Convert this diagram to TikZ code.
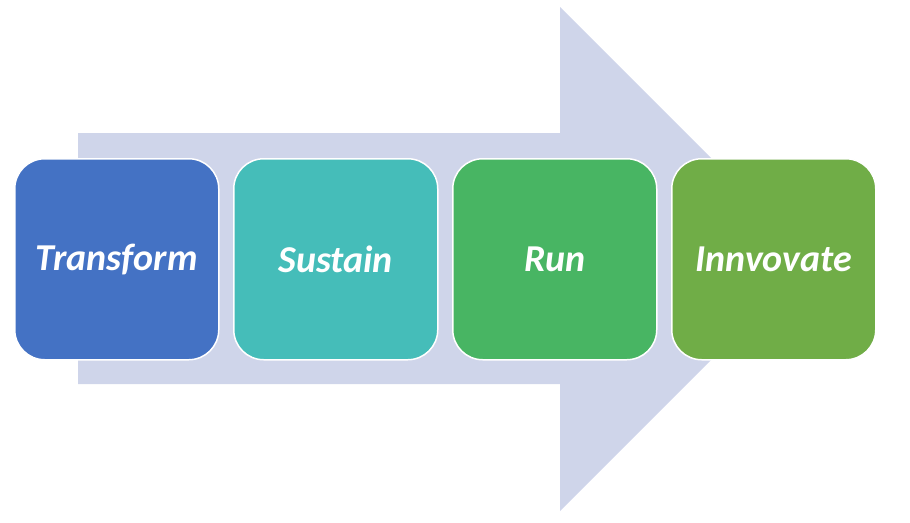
\documentclass[tikz,border=0pt]{standalone}
\usepackage{fontspec}
\setmainfont{Carlito}
\definecolor{arrowc}{HTML}{CFD5EA}
\definecolor{cblue}{HTML}{4472C4}
\definecolor{cteal}{HTML}{45BDB9}
\definecolor{cgreen}{HTML}{48B563}
\definecolor{colive}{HTML}{70AD47}
\tikzset{
  stepbox/.style={draw=white, line width=1.5pt, rounded corners=30pt, minimum width=204pt, minimum height=201pt, inner sep=0pt, text=white, font=\fontsize{38}{44}\selectfont\bfseries\itshape, anchor=north west}
}
\begin{document}
\begin{tikzpicture}[x=1pt,y=-1pt]
\useasboundingbox (0,0) rectangle (910,522);
\fill[arrowc] (78,133) -- (560,133) -- (560,7) -- (812,259) -- (560,511) -- (560,384) -- (78,384) -- cycle;
\node[stepbox, fill=cblue] (t) at (14,158) {Transform};
\node[stepbox, fill=cteal] (s) at (233,158) {Sustain};
\node[stepbox, fill=cgreen] (r) at (452,158) {Run};
\node[stepbox, fill=colive] (i) at (671,158) {Innvovate};
\end{tikzpicture}
\end{document}
